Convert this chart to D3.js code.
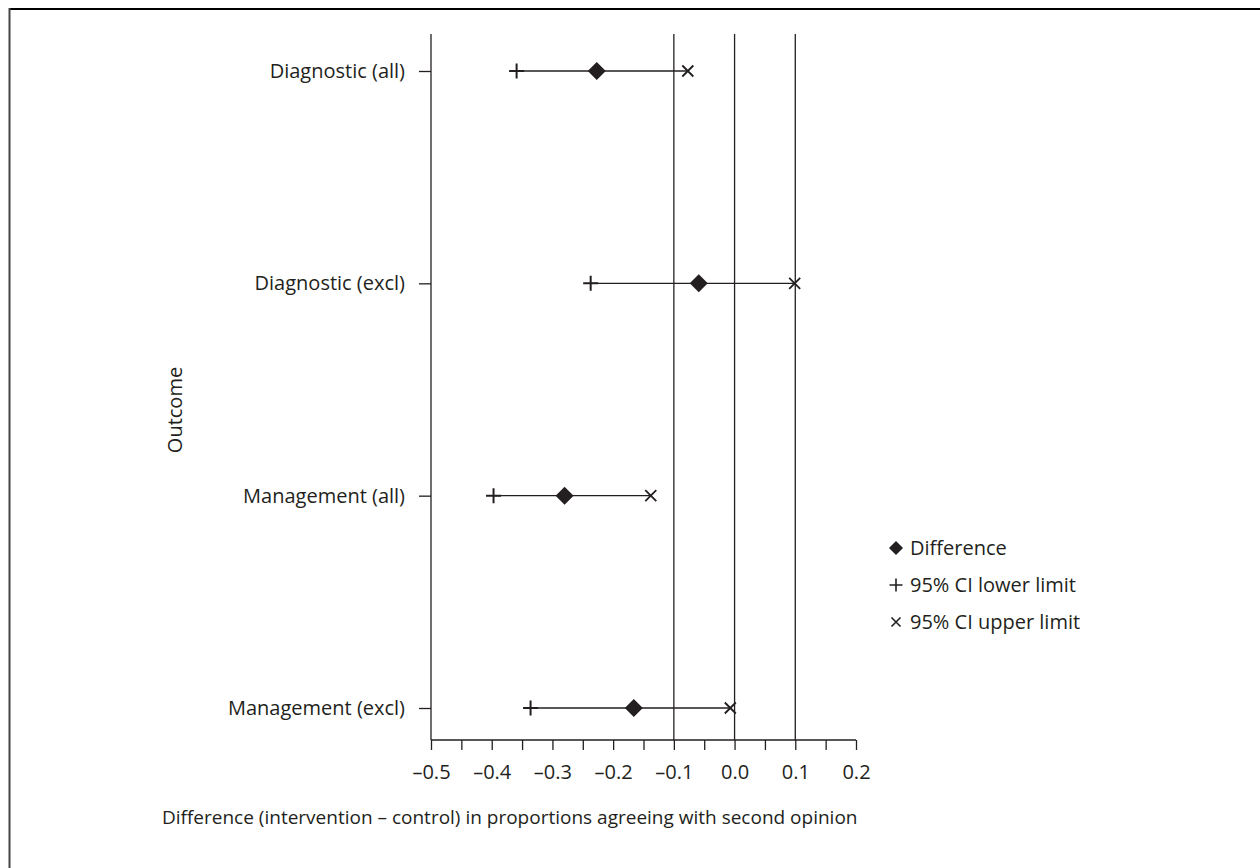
<!DOCTYPE html>
<html><head><meta charset="utf-8">
<script src="https://cdn.jsdelivr.net/npm/d3@7"></script>
<style>
body{margin:0;background:#fff;}
svg{display:block;font-family:"Open Sans",Lato,sans-serif;}
</style></head>
<body>
<svg id="chart" width="1260" height="868"></svg>
<script>
const categories = ["Diagnostic (all)", "Diagnostic (excl)", "Management (all)", "Management (excl)"];
const difference = [-0.227, -0.059, -0.280, -0.166];
const lowerCI = [-0.359, -0.237, -0.397, -0.336];
const upperCI = [-0.077, 0.099, -0.138, -0.007];
const xTicks = [-0.5, -0.4, -0.3, -0.2, -0.1, 0.0, 0.1, 0.2];
const refLines = [-0.1, 0.0, 0.1];
const legendLabels = ["Difference", "95% CI lower limit", "95% CI upper limit"];

(function(){
const svg = d3.select("#chart");
const col = "#231f20";
const ff = "'Open Sans',Lato,sans-serif";

// frame (top and left only)
svg.append("line").attr("x1",9.5).attr("x2",1260).attr("y1",9).attr("y2",9).attr("stroke","#000").attr("stroke-width",2);
svg.append("line").attr("x1",9.5).attr("x2",9.5).attr("y1",8).attr("y2",868).attr("stroke","#444").attr("stroke-width",2);

const x = d3.scaleLinear().domain([-0.5, 0.2]).range([431, 856]);
const plotTop = 34, plotBottom = 740;
const y = d3.scalePoint().domain(categories).range([71, 708]).padding(0);

// reference vertical lines
svg.selectAll(".ref").data(refLines).join("line")
  .attr("x1", d=>x(d)).attr("x2", d=>x(d)).attr("y1", plotTop).attr("y2", plotBottom)
  .attr("stroke", col).attr("stroke-width", 1.3);

// y axis
const yAxis = d3.axisLeft(y).tickSize(12).tickPadding(14);
const gy = svg.append("g").attr("transform", `translate(${x(-0.5)},0)`).call(yAxis);
gy.select(".domain").attr("d", `M0,${plotTop}V${plotBottom}`).attr("stroke", col).attr("stroke-width",1.3);
gy.selectAll(".tick line").attr("stroke", col).attr("stroke-width",1.3);
gy.selectAll(".tick text").attr("font-size", 20).attr("fill", col).attr("font-family",ff);

// x axis
const minor = d3.range(-0.5, 0.2001, 0.05);
const gxm = svg.append("g").attr("transform", `translate(0,${plotBottom})`)
  .call(d3.axisBottom(x).tickValues(minor).tickSize(10).tickFormat(""));
gxm.select(".domain").attr("d", `M${x(-0.5)},0H${x(0.2)}`).attr("stroke", col).attr("stroke-width",1.3);
gxm.selectAll(".tick line").attr("stroke", col).attr("stroke-width",1.3);
const gx = svg.append("g").attr("transform", `translate(0,${plotBottom})`)
  .call(d3.axisBottom(x).tickValues(xTicks).tickSize(0).tickPadding(25)
    .tickFormat(d => (d < 0 ? "\u2013" : "") + Math.abs(d).toFixed(1)));
gx.select(".domain").remove();
gx.selectAll(".tick text").attr("font-size", 20).attr("fill", col).attr("font-family",ff);

// CI lines
const rows = categories.map((c,i)=>({c, d:difference[i], lo:lowerCI[i], hi:upperCI[i]}));
svg.selectAll(".ci").data(rows).join("line")
  .attr("x1", d=>x(d.lo)).attr("x2", d=>x(d.hi)).attr("y1", d=>y(d.c)).attr("y2", d=>y(d.c))
  .attr("stroke", col).attr("stroke-width", 1.3);

const plusPath = s => `M${-s},0H${s}M0,${-s}V${s}`;
const crossPath = s => `M${-s},${-s}L${s},${s}M${-s},${s}L${s},${-s}`;
const diamondPath = s => `M0,${-s}L${s},0L0,${s}L${-s},0Z`;

svg.selectAll(".lo").data(rows).join("path")
  .attr("transform", d=>`translate(${x(d.lo)},${y(d.c)})`)
  .attr("d", plusPath(7.5)).attr("stroke", col).attr("stroke-width", 2).attr("fill","none");
svg.selectAll(".hi").data(rows).join("path")
  .attr("transform", d=>`translate(${x(d.hi)},${y(d.c)})`)
  .attr("d", crossPath(5.5)).attr("stroke", col).attr("stroke-width", 1.8).attr("fill","none");
svg.selectAll(".dm").data(rows).join("path")
  .attr("transform", d=>`translate(${x(d.d)},${y(d.c)})`)
  .attr("d", diamondPath(9)).attr("fill", col);

// axis titles
svg.append("text").attr("transform", "translate(182,410) rotate(-90)")
  .attr("text-anchor","middle").attr("font-size",20).attr("fill",col).text("Outcome");
svg.append("text").attr("x",162).attr("y",824)
  .attr("font-size",19).attr("fill",col).text("Difference (intervention \u2013 control) in proportions agreeing with second opinion");

// legend
const lg = svg.append("g");
const legendY = [548, 585, 622];
const symbols = [diamondPath(7), plusPath(6.5), crossPath(4.5)];
legendLabels.forEach((t,i)=>{
  const p = lg.append("path").attr("transform",`translate(896,${legendY[i]})`).attr("d", symbols[i]);
  if (i===0) p.attr("fill", col); else p.attr("fill","none").attr("stroke",col).attr("stroke-width",1.6);
  lg.append("text").attr("x",910).attr("y",legendY[i]).attr("dy","0.35em")
    .attr("font-size",20).attr("fill",col).text(t);
});
})();
</script>
</body></html>
